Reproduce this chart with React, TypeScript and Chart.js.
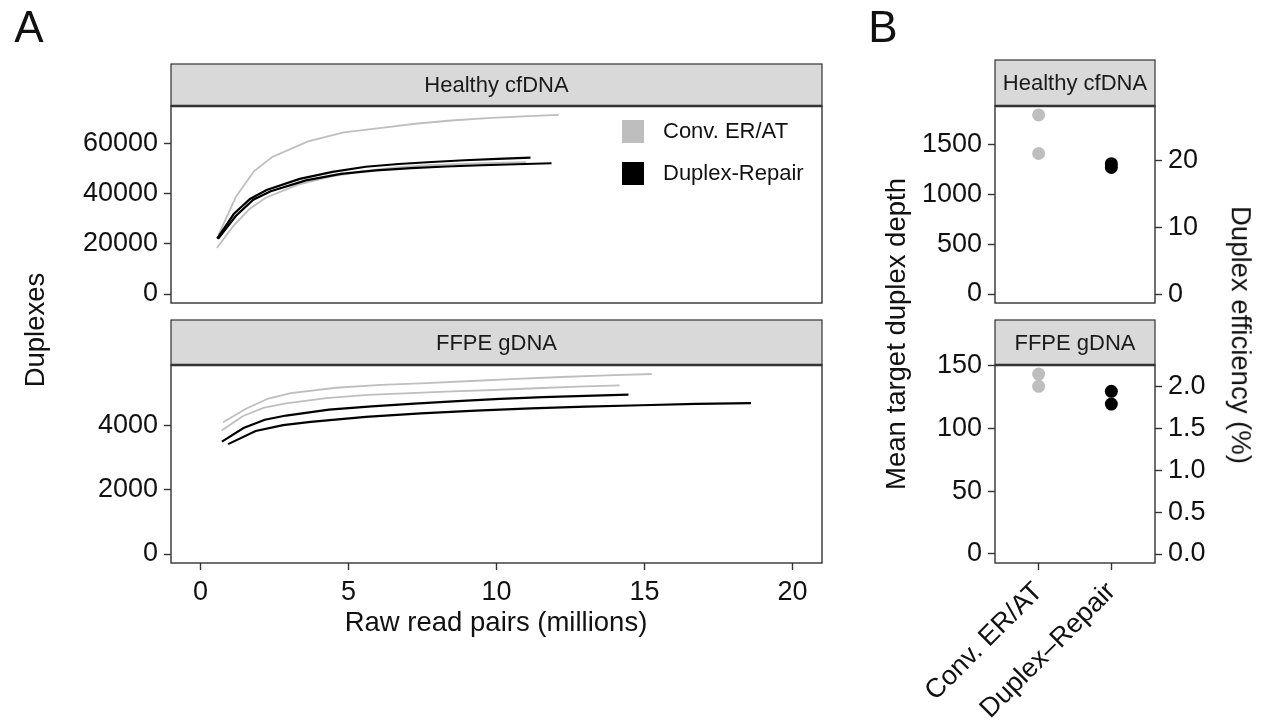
import React, { useEffect, useRef } from "react";
import { Chart, registerables } from "chart.js";

Chart.register(...registerables);

const FONT = "'Liberation Sans', Arial, Helvetica, sans-serif";
const CONV_COLOR = "#bebebe";
const REPAIR_COLOR = "#000000";
const FRAME = "#333333";
const STRIP_FILL = "#d9d9d9";
const TEXT = "#111111";

Chart.defaults.font.family = FONT;

const protocols = ["Conv. ER/AT", "Duplex-Repair"];
const protocolAxisLabels = ["Conv. ER/AT", "Duplex\u2013Repair"];
const facets = ["Healthy cfDNA", "FFPE gDNA"];

// Rarefaction curves, healthy cfDNA: raw read pairs (millions) vs. duplexes
const cfConvAReads = [0.6, 1.21, 1.82, 2.42, 3.63, 4.84, 6.05, 7.26, 8.47, 9.68, 10.89, 12.1];
const cfConvADuplexes = [23400, 39000, 49000, 54500, 60700, 64300, 66000, 67700, 69000, 69900, 70600, 71200];
const cfConvBReads = [0.55, 1.1, 1.65, 2.2, 3.3, 4.4, 5.5, 6.6, 7.7, 8.8, 9.9, 11.0];
const cfConvBDuplexes = [18300, 27000, 33800, 38300, 43500, 46700, 48900, 50400, 51200, 51700, 52100, 52400];
const cfRepairAReads = [0.56, 1.12, 1.67, 2.23, 3.35, 4.46, 5.58, 6.69, 7.81, 8.92, 10.04, 11.15];
const cfRepairADuplexes = [22000, 31800, 37800, 41400, 45800, 48600, 50600, 51700, 52500, 53200, 53700, 54200];
const cfRepairBReads = [0.59, 1.19, 1.78, 2.37, 3.56, 4.74, 5.93, 7.12, 8.3, 9.49, 10.67, 11.86];
const cfRepairBDuplexes = [22000, 31000, 37500, 40900, 45200, 47800, 49200, 50100, 50700, 51200, 51600, 52000];

// Rarefaction curves, FFPE gDNA
const ffConvAReads = [0.76, 1.53, 2.29, 3.05, 4.58, 6.1, 7.63, 9.15, 10.68, 12.2, 13.73, 15.25];
const ffConvADuplexes = [4100, 4520, 4840, 5010, 5175, 5262, 5320, 5385, 5450, 5510, 5560, 5603];
const ffConvBReads = [0.71, 1.42, 2.12, 2.83, 4.25, 5.66, 7.08, 8.5, 9.91, 11.33, 12.74, 14.16];
const ffConvBDuplexes = [3844, 4290, 4550, 4680, 4850, 4950, 5010, 5060, 5105, 5160, 5210, 5250];
const ffRepairAReads = [0.72, 1.45, 2.17, 2.89, 4.34, 5.78, 7.23, 8.68, 10.12, 11.57, 13.01, 14.46];
const ffRepairADuplexes = [3500, 3920, 4180, 4310, 4495, 4595, 4680, 4760, 4830, 4880, 4925, 4959];
const ffRepairBReads = [0.93, 1.86, 2.79, 3.72, 5.58, 7.44, 9.3, 11.16, 13.02, 14.88, 16.74, 18.6];
const ffRepairBDuplexes = [3420, 3830, 4010, 4110, 4270, 4380, 4460, 4530, 4590, 4630, 4670, 4697];

const readTicks = [0, 5, 10, 15, 20];
const cfDuplexTicks = [0, 20000, 40000, 60000];
const ffDuplexTicks = [0, 2000, 4000];

// Mean target duplex depth per library
const cfDepthConv = [1793, 1407];
const cfDepthRepair = [1305, 1268];
const ffDepthConv = [143.3, 133.5];
const ffDepthRepair = [129.5, 119.4];

const cfDepthTicks = [0, 500, 1000, 1500];
const cfEfficiencyTicks = [0, 10, 20];
const ffDepthTicks = [0, 50, 100, 150];
const ffEfficiencyTicks = [0, 0.5, 1, 1.5, 2];

// Axis limits (data range plus 5% padding)
const readRange = [-1, 21];
const cfDuplexRange = [-3560, 74760];
const ffDuplexRange = [-280, 5883];
const cfDepthRange = [-89.65, 1882.65];
const cfEfficiencyRange = [-1.344, 28.23];
const ffDepthRange = [-7.17, 150.5];
const ffEfficiencyRange = [-0.107, 2.253];
const protocolRange = [0.4, 2.6];

const TICK_FONT = { family: FONT, size: 27 };

type Fmt = (v: number) => string;

function axis(range: number[], ticks: number[], fmt: Fmt, extra: any = {}) {
  return {
    type: "linear",
    bounds: "data",
    min: range[0],
    max: range[1],
    afterBuildTicks: (s: any) => {
      s.ticks = ticks.map((v) => ({ value: v }));
    },
    ticks: {
      color: TEXT,
      font: TICK_FONT,
      padding: 6,
      autoSkip: false,
      maxRotation: 0,
      callback: (v: any) => fmt(Number(v)),
    },
    grid: {
      display: true,
      drawOnChartArea: false,
      drawTicks: true,
      tickLength: 7,
      tickColor: FRAME,
      tickWidth: 1.4,
    },
    border: { display: false },
    ...extra,
  };
}

const fixedWidth = (w: number) => (s: any) => {
  s.width = w;
};
const fixedHeight = (h: number) => (s: any) => {
  s.height = h;
};

function curve(label: string, xs: number[], ys: number[], color: string, width: number, order: number) {
  return {
    type: "line",
    label,
    data: xs.map((x, i) => ({ x, y: ys[i] })),
    borderColor: color,
    backgroundColor: color,
    borderWidth: width,
    pointRadius: 0,
    tension: 0,
    fill: false,
    order,
  };
}

function dots(label: string, pos: number, values: number[], color: string, order: number) {
  return {
    type: "scatter",
    label,
    data: values.map((y) => ({ x: pos, y })),
    backgroundColor: color,
    borderColor: color,
    borderWidth: 0,
    pointRadius: 6.5,
    order,
  };
}

// Facet strip above the panel plus the panel frame
function facetPanel(label: string, stripHeight: number) {
  return {
    id: "facetPanel",
    afterDraw(chart: any) {
      const { ctx, chartArea: a } = chart;
      const top = a.top - stripHeight;
      ctx.save();
      ctx.fillStyle = STRIP_FILL;
      ctx.fillRect(a.left, top, a.right - a.left, stripHeight);
      ctx.strokeStyle = FRAME;
      ctx.lineWidth = 1.2;
      ctx.strokeRect(a.left, top, a.right - a.left, stripHeight);
      ctx.fillStyle = "#1a1a1a";
      ctx.font = `22px ${FONT}`;
      ctx.textAlign = "center";
      ctx.textBaseline = "middle";
      ctx.fillText(label, (a.left + a.right) / 2, top + stripHeight / 2 + 1);
      ctx.lineWidth = 1.4;
      ctx.strokeRect(a.left, a.top, a.right - a.left, a.bottom - a.top);
      ctx.lineWidth = 2.4;
      ctx.beginPath();
      ctx.moveTo(a.left, a.top);
      ctx.lineTo(a.right, a.top);
      ctx.stroke();
      ctx.restore();
    },
  };
}

// Colour key drawn inside the top-right of the panel
const protocolKey = {
  id: "protocolKey",
  afterDraw(chart: any) {
    const { ctx, chartArea: a } = chart;
    const colors = [CONV_COLOR, REPAIR_COLOR];
    ctx.save();
    ctx.font = `22px ${FONT}`;
    ctx.textAlign = "left";
    ctx.textBaseline = "middle";
    protocols.forEach((name, i) => {
      const y = a.top + 14 + i * 42;
      ctx.fillStyle = colors[i];
      ctx.fillRect(a.left + 451, y, 22, 23);
      ctx.fillStyle = TEXT;
      ctx.fillText(name, a.left + 492, y + 12);
    });
    ctx.restore();
  },
};

const plain: Fmt = (v) => String(v);
const oneDecimal: Fmt = (v) => v.toFixed(1);

function baseOptions(padding: any, scales: any) {
  return {
    responsive: false,
    animation: false,
    devicePixelRatio: 1,
    layout: { padding },
    plugins: { legend: { display: false }, tooltip: { enabled: false } },
    scales,
  };
}

const hiddenX = (range: number[]) => ({
  type: "linear",
  display: false,
  bounds: "data",
  min: range[0],
  max: range[1],
});

function buildCfCurves() {
  return {
    type: "line",
    data: {
      datasets: [
        curve(protocols[1], cfRepairAReads, cfRepairADuplexes, REPAIR_COLOR, 2.2, 0),
        curve(protocols[1], cfRepairBReads, cfRepairBDuplexes, REPAIR_COLOR, 2.2, 0),
        curve(protocols[0], cfConvAReads, cfConvADuplexes, CONV_COLOR, 1.8, 1),
        curve(protocols[0], cfConvBReads, cfConvBDuplexes, CONV_COLOR, 1.8, 1),
      ],
    },
    options: baseOptions(
      { top: 106, bottom: 27, left: 0, right: 18 },
      {
        x: hiddenX(readRange),
        y: axis(cfDuplexRange, cfDuplexTicks, plain, { afterFit: fixedWidth(171) }),
      }
    ),
    plugins: [facetPanel(facets[0], 42), protocolKey],
  };
}

function buildFfCurves() {
  return {
    type: "line",
    data: {
      datasets: [
        curve(protocols[1], ffRepairAReads, ffRepairADuplexes, REPAIR_COLOR, 2.2, 0),
        curve(protocols[1], ffRepairBReads, ffRepairBDuplexes, REPAIR_COLOR, 2.2, 0),
        curve(protocols[0], ffConvAReads, ffConvADuplexes, CONV_COLOR, 1.8, 1),
        curve(protocols[0], ffConvBReads, ffConvBDuplexes, CONV_COLOR, 1.8, 1),
      ],
    },
    options: baseOptions(
      { top: 65, bottom: 0, left: 0, right: 18 },
      {
        x: axis(readRange, readTicks, plain, { afterFit: fixedHeight(47) }),
        y: axis(ffDuplexRange, ffDuplexTicks, plain, { afterFit: fixedWidth(171) }),
      }
    ),
    plugins: [facetPanel(facets[1], 45)],
  };
}

function buildCfDepth() {
  return {
    type: "scatter",
    data: {
      datasets: [
        dots(protocols[1], 2, cfDepthRepair, REPAIR_COLOR, 0),
        dots(protocols[0], 1, cfDepthConv, CONV_COLOR, 1),
      ],
    },
    options: baseOptions(
      { top: 106, bottom: 27, left: 0, right: 0 },
      {
        x: hiddenX(protocolRange),
        y: axis(cfDepthRange, cfDepthTicks, plain, { afterFit: fixedWidth(155) }),
        y2: axis(cfEfficiencyRange, cfEfficiencyTicks, plain, {
          position: "right",
          afterFit: fixedWidth(111),
        }),
      }
    ),
    plugins: [facetPanel(facets[0], 46)],
  };
}

function buildFfDepth() {
  return {
    type: "scatter",
    data: {
      datasets: [
        dots(protocols[1], 2, ffDepthRepair, REPAIR_COLOR, 0),
        dots(protocols[0], 1, ffDepthConv, CONV_COLOR, 1),
      ],
    },
    options: baseOptions(
      { top: 65, bottom: 0, left: 0, right: 0 },
      {
        x: axis(protocolRange, [1, 2], (v) => protocolAxisLabels[v - 1], {
          afterFit: fixedHeight(162),
          ticks: {
            color: TEXT,
            font: TICK_FONT,
            padding: 6,
            autoSkip: false,
            minRotation: 45,
            maxRotation: 45,
            callback: (v: any) => protocolAxisLabels[Number(v) - 1],
          },
        }),
        y: axis(ffDepthRange, ffDepthTicks, plain, { afterFit: fixedWidth(155) }),
        y2: axis(ffEfficiencyRange, ffEfficiencyTicks, oneDecimal, {
          position: "right",
          afterFit: fixedWidth(111),
        }),
      }
    ),
    plugins: [facetPanel(facets[1], 45)],
  };
}

function ChartCanvas(props: { left: number; top: number; width: number; height: number; build: () => any }) {
  const ref = useRef<HTMLCanvasElement>(null);
  useEffect(() => {
    const chart = new Chart(ref.current as HTMLCanvasElement, props.build());
    return () => chart.destroy();
  }, []);
  return (
    <canvas
      ref={ref}
      width={props.width}
      height={props.height}
      style={{ position: "absolute", left: props.left, top: props.top, width: props.width, height: props.height }}
    />
  );
}

function Label(props: { x: number; y: number; size: number; rotate?: number; text: string }) {
  const rot = props.rotate || 0;
  return (
    <div
      style={{
        position: "absolute",
        left: props.x,
        top: props.y,
        transform: `translate(-50%, -50%) rotate(${rot}deg)`,
        fontSize: props.size,
        fontFamily: FONT,
        color: TEXT,
        whiteSpace: "nowrap",
        lineHeight: 1.15,
      }}
    >
      {props.text}
    </div>
  );
}

export default function App() {
  return (
    <div
      style={{
        position: "absolute",
        left: 0,
        top: 0,
        width: 1266,
        height: 725,
        overflow: "hidden",
        background: "#ffffff",
        fontFamily: FONT,
      }}
    >
      <ChartCanvas left={0} top={0} width={840} height={330} build={buildCfCurves} />
      <ChartCanvas left={0} top={300} width={840} height={310} build={buildFfCurves} />
      <ChartCanvas left={840} top={0} width={426} height={330} build={buildCfDepth} />
      <ChartCanvas left={840} top={300} width={426} height={425} build={buildFfDepth} />

      <Label x={29} y={27} size={44} text="A" />
      <Label x={883} y={27} size={44} text="B" />
      <Label x={35} y={330} size={27.5} rotate={-90} text="Duplexes" />
      <Label x={496} y={622} size={27.5} text="Raw read pairs (millions)" />
      <Label x={896} y={334} size={27.5} rotate={-90} text="Mean target duplex depth" />
      <Label x={1241} y={335} size={27.5} rotate={90} text="Duplex efficiency (%)" />
    </div>
  );
}
